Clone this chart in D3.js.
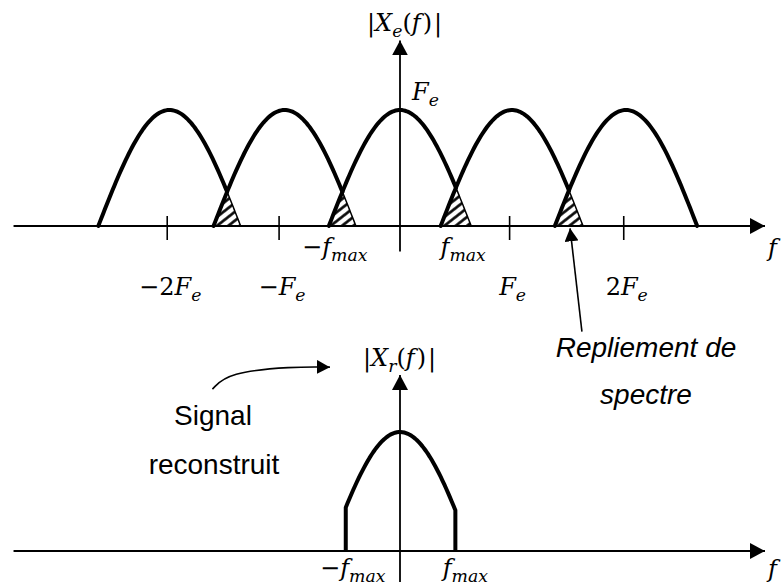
<!DOCTYPE html>
<html>
<head>
<meta charset="utf-8">
<script src="https://cdn.jsdelivr.net/npm/d3@7"></script>
<style>
  body { margin: 0; background: #fff; }
</style>
</head>
<body>
<div id="chart"></div>
<script>
// values in units of Fe
const lobeCentres = [-2.04, -1.02, 0, 0.99, 2.0];
const fmax = 0.63;
const peak = 1;
const tickPos = [-2.06, -1.07, 0.97, 1.98];
const tickLabels = [
    [{t: "−2"}, {t: "F", i: 1}, {t: "e", i: 1, sub: 1}],
    [{t: "−"}, {t: "F", i: 1}, {t: "e", i: 1, sub: 1}],
    [{t: "F", i: 1}, {t: "e", i: 1, sub: 1}],
    [{t: "2"}, {t: "F", i: 1}, {t: "e", i: 1, sub: 1}]
];
const cutoff = [-0.48, 0.49];   // edges of the reconstructed signal

function b1() {
    const width = 782, height = 588;
    const MATH = "DejaVu Serif";
    const SANS = "Liberation Sans, Arial, sans-serif";
    const MS = 24;

    const svg = d3.select("#chart").append("svg")
        .attr("width", width)
        .attr("height", height);

    //Scales
    const x = d3.scaleLinear().domain([0, 1]).range([400, 513]);
    const yTop = d3.scaleLinear().domain([0, 1]).range([226, 110]);
    const yBot = d3.scaleLinear().domain([0, 1]).range([551, 432]);

    //Markers and hatch
    const defs = svg.append("defs");
    function marker(id, len, half) {
        defs.append("marker")
            .attr("id", id)
            .attr("markerUnits", "userSpaceOnUse")
            .attr("viewBox", `0 ${-half} ${len} ${half * 2}`)
            .attr("refX", len).attr("refY", 0)
            .attr("markerWidth", len).attr("markerHeight", half * 2)
            .attr("orient", "auto")
            .append("path")
            .attr("d", `M0,${-half}L${len},0L0,${half}Z`)
            .attr("fill", "black");
    }
    marker("arrowAxis", 15, 8);
    marker("arrowNote", 13, 7);

    defs.append("pattern")
        .attr("id", "hatch")
        .attr("patternUnits", "userSpaceOnUse")
        .attr("width", 7).attr("height", 7)
        .attr("patternTransform", "rotate(-38)")
        .append("line")
        .attr("x1", 0).attr("y1", 3.5).attr("x2", 7).attr("y2", 3.5)
        .attr("stroke", "black").attr("stroke-width", 2.6);

    function lobe(c, v) {
        const d = Math.abs(v - c);
        return d < fmax ? peak * Math.cos(Math.PI / 2 * (v - c) / fmax) : 0;
    }

    function mathText(g, px, py, parts, size, anchor) {
        const t = g.append("text")
            .attr("x", px).attr("y", py)
            .attr("font-family", MATH)
            .attr("font-size", size)
            .attr("text-anchor", anchor || "middle")
            .attr("fill", "black");
        let down = 0;
        parts.forEach(p => {
            const ts = t.append("tspan").text(p.t);
            if (p.i) ts.attr("font-style", "italic");
            if (p.dx) ts.attr("dx", p.dx);
            const want = p.sub ? size * 0.26 : 0;
            if (want !== down) { ts.attr("dy", want - down); down = want; }
            if (p.sub) ts.attr("font-size", size * 0.72);
        });
        return t;
    }

    const lineGen = (ys) => d3.line().x(d => x(d[0])).y(d => ys(d[1]));

    // ---------- top chart ----------
    const top = svg.append("g");

    top.append("line")
        .attr("x1", x(-3.42)).attr("x2", x(3.23))
        .attr("y1", yTop(0)).attr("y2", yTop(0))
        .attr("stroke", "black").attr("stroke-width", 1.8)
        .attr("marker-end", "url(#arrowAxis)");

    top.selectAll(".tick")
        .data(tickPos)
        .join("line")
        .attr("x1", d => x(d)).attr("x2", d => x(d))
        .attr("y1", yTop(0) - 10).attr("y2", yTop(0) + 14)
        .attr("stroke", "black").attr("stroke-width", 1.6);

    // overlap triangles (aliasing)
    for (let k = 0; k < lobeCentres.length - 1; k++) {
        const c1 = lobeCentres[k], c2 = lobeCentres[k + 1];
        const pts = d3.range(0, 31).map(i => {
            const v = (c2 - fmax) + (c1 + fmax - (c2 - fmax)) * i / 30;
            return [v, Math.min(lobe(c1, v), lobe(c2, v))];
        });
        top.append("path")
            .attr("d", lineGen(yTop)(pts) + "Z")
            .attr("fill", "url(#hatch)")
            .attr("stroke", "black")
            .attr("stroke-width", 1.5);
    }

    // lobes
    lobeCentres.forEach((c, k) => {
        const end = k < lobeCentres.length - 1 ? (c + lobeCentres[k + 1]) / 2 : c + fmax;
        const start = c - fmax;
        const pts = d3.range(0, 81).map(i => {
            const v = start + (end - start) * i / 80;
            return [v, lobe(c, v)];
        });
        top.append("path")
            .attr("d", lineGen(yTop)(pts))
            .attr("fill", "none")
            .attr("stroke", "black")
            .attr("stroke-width", 4)
            .attr("stroke-linecap", "round");
    });

    top.append("line")
        .attr("x1", x(0)).attr("x2", x(0))
        .attr("y1", yTop(-0.22)).attr("y2", yTop(1.6))
        .attr("stroke", "black").attr("stroke-width", 1.8)
        .attr("marker-end", "url(#arrowAxis)");

    mathText(top, x(0) - 33, 31, [{t: "|"}, {t: "X", i: 1}, {t: "e", i: 1, sub: 1}, {t: "("}, {t: "f", i: 1}, {t: ")", dx: 2}, {t: "|", dx: 2}], MS, "start");
    mathText(top, x(0) + 12, yTop(peak) - 10, [{t: "F", i: 1}, {t: "e", i: 1, sub: 1}], MS, "start");

    tickPos.forEach((p, i) => {
        mathText(top, x(p) + 3, 295, tickLabels[i], MS, "middle");
    });
    mathText(top, x(-fmax) + 6, 255, [{t: "−"}, {t: "f", i: 1}, {t: "max", i: 1, sub: 1}], MS, "middle");
    mathText(top, x(fmax) - 8, 255, [{t: "f", i: 1}, {t: "max", i: 1, sub: 1}], MS, "middle");
    mathText(top, 768, 256, [{t: "f", i: 1}], MS, "start");

    // aliasing annotation
    top.append("line")
        .attr("x1", x(1.61)).attr("y1", yTop(-0.91))
        .attr("x2", x(1.505)).attr("y2", yTop(-0.02))
        .attr("stroke", "black").attr("stroke-width", 1.6)
        .attr("marker-end", "url(#arrowNote)");
    top.append("text")
        .attr("x", 646).attr("y", 357)
        .attr("text-anchor", "middle")
        .attr("font-family", SANS).attr("font-style", "italic")
        .attr("font-size", 28)
        .text("Repliement de");
    top.append("text")
        .attr("x", 646).attr("y", 404)
        .attr("text-anchor", "middle")
        .attr("font-family", SANS).attr("font-style", "italic")
        .attr("font-size", 28)
        .text("spectre");

    // ---------- bottom chart ----------
    const bot = svg.append("g");

    bot.append("line")
        .attr("x1", x(-3.42)).attr("x2", x(3.23))
        .attr("y1", yBot(0)).attr("y2", yBot(0))
        .attr("stroke", "black").attr("stroke-width", 1.8)
        .attr("marker-end", "url(#arrowAxis)");

    const recon = [[cutoff[0], 0]]
        .concat(d3.range(0, 61).map(i => {
            const v = cutoff[0] + (cutoff[1] - cutoff[0]) * i / 60;
            return [v, lobe(0, v)];
        }))
        .concat([[cutoff[1], 0]]);
    bot.append("path")
        .attr("d", lineGen(yBot)(recon))
        .attr("fill", "none")
        .attr("stroke", "black")
        .attr("stroke-width", 4)
        .attr("stroke-linejoin", "round");

    bot.append("line")
        .attr("x1", x(0)).attr("x2", x(0))
        .attr("y1", yBot(-0.26)).attr("y2", yBot(1.48))
        .attr("stroke", "black").attr("stroke-width", 1.8)
        .attr("marker-end", "url(#arrowAxis)");

    mathText(bot, x(0) - 37, 366, [{t: "|"}, {t: "X", i: 1}, {t: "r", i: 1, sub: 1}, {t: "("}, {t: "f", i: 1}, {t: ")", dx: 2}, {t: "|", dx: 2}], MS, "start");
    mathText(bot, x(cutoff[0]) + 7, 576, [{t: "−"}, {t: "f", i: 1}, {t: "max", i: 1, sub: 1}], MS, "middle");
    mathText(bot, x(cutoff[1]) + 10, 576, [{t: "f", i: 1}, {t: "max", i: 1, sub: 1}], MS, "middle");
    mathText(bot, 768, 577, [{t: "f", i: 1}], MS, "start");

    // reconstructed signal annotation
    const curve = [[-1.66, 1.36], [-1.52, 1.50], [-0.95, 1.55], [-0.62, 1.545]];
    bot.append("path")
        .attr("d", d3.line().x(d => x(d[0])).y(d => yBot(d[1])).curve(d3.curveBasis)(curve))
        .attr("fill", "none")
        .attr("stroke", "black").attr("stroke-width", 1.6)
        .attr("marker-end", "url(#arrowNote)");
    bot.append("text")
        .attr("x", 213).attr("y", 425)
        .attr("text-anchor", "middle")
        .attr("font-family", SANS).attr("font-size", 28)
        .text("Signal");
    bot.append("text")
        .attr("x", 214).attr("y", 474)
        .attr("text-anchor", "middle")
        .attr("font-family", SANS).attr("font-size", 28)
        .text("reconstruit");
}
b1();
</script>
</body>
</html>
